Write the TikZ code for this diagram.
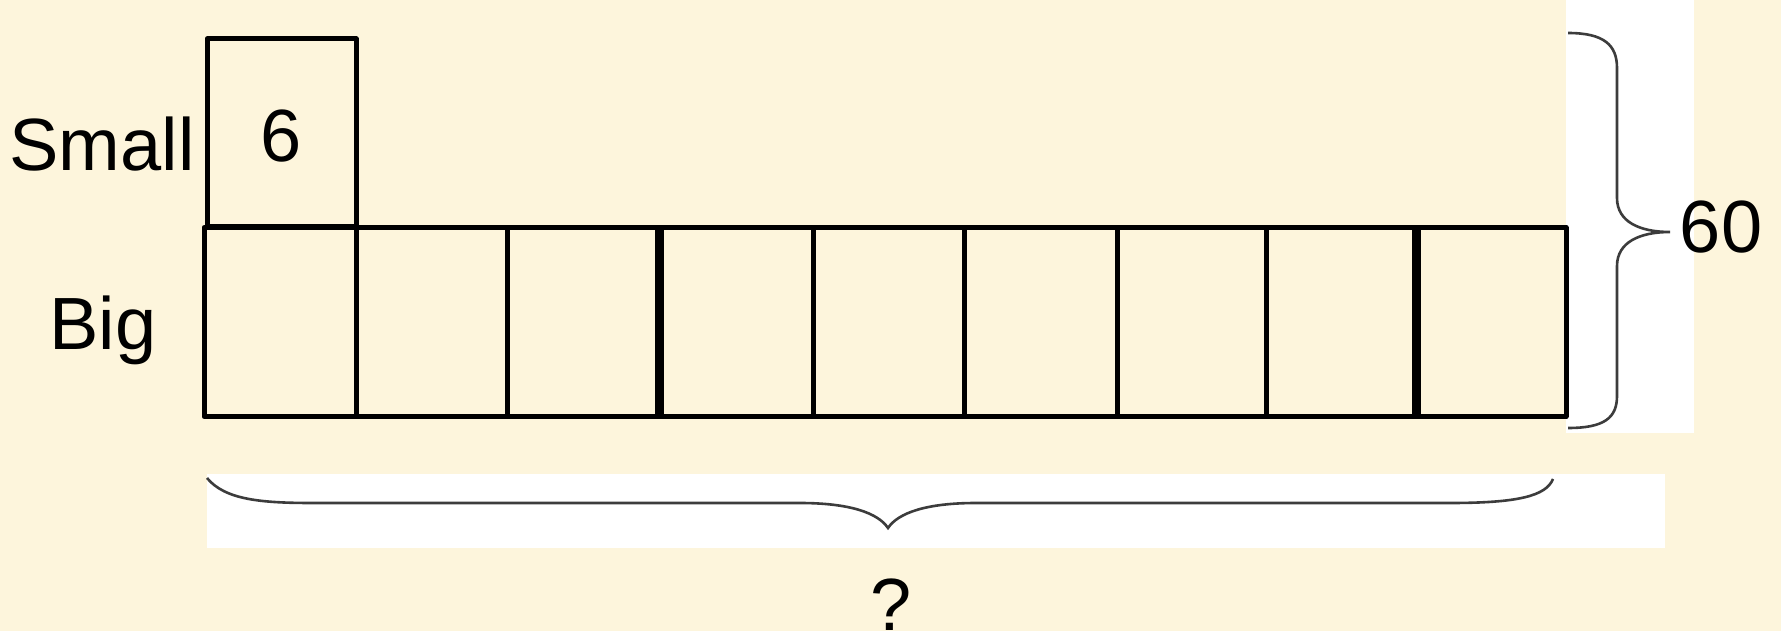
\documentclass[tikz,border=0pt]{standalone}
\usepackage{fontspec}
\setmainfont{Liberation Sans}
\definecolor{bgcream}{RGB}{253,245,220}
\definecolor{bracegray}{RGB}{60,60,60}
\begin{document}
\begin{tikzpicture}[x=1pt,y=-1pt,
  boxst/.style={draw=black,line width=5pt,rectangle,inner sep=0pt,outer sep=0pt,line join=round},
  lbl/.style={font=\fontsize{74}{80}\selectfont,inner sep=0pt,anchor=base},
  bracest/.style={draw=bracegray,line width=2.6pt}]
\fill[bgcream] (0,0) rectangle (1781,631);
\useasboundingbox (0,0) rectangle (1781,631);
% white patches behind braces
\fill[white] (1566,0) rectangle (1694,433);
\fill[white] (207,474) rectangle (1665,548);
% small box
\node[boxst,minimum width=149pt,minimum height=188pt] (s1) at (281.5,133) {};
% big boxes
\foreach \i/\a/\b in {1/204/356,2/356/507,3/507/659,4/659/813,5/813/964,6/964/1117,7/1117/1266,8/1266/1416,9/1416/1566}{
  \node[boxst,minimum width={\b-\a},minimum height=189pt] (b\i) at ({(\a+\b)/2},322) {};
}
% thicker dividers
\draw[line width=9pt] (b4.north west) -- (b4.south west);
\draw[line width=9pt] (b9.north west) -- (b9.south west);
% labels
\node[lbl] (tsmall) at (102,171) {Small};
\node[lbl] (tsix) at (281,162) {6};
\node[lbl] (tbig) at (103,349) {Big};
\node[lbl] (tsixty) at (1721,253) {60};
\node[lbl] (tq) at (891,630) {?};
% braces
\coordinate (rtop) at (1568,33);
\coordinate (rtip) at (1670,232);
\coordinate (rbot) at (1568,428);
\draw[bracest] (rtop) .. controls (1604,33) and (1617,45) .. (1617,68) -- (1617,198)
  .. controls (1617,222) and (1640,232) .. (rtip)
  .. controls (1640,232) and (1617,242) .. (1617,266) -- (1617,396)
  .. controls (1617,418) and (1604,428) .. (rbot);
\coordinate (bl) at (207,478);
\coordinate (btip) at (888,528);
\coordinate (br) at (1553,479);
\draw[bracest] (bl) .. controls (225,500) and (262,503) .. (313,503) -- (800,503)
  .. controls (850,503) and (878,513) .. (btip)
  .. controls (898,513) and (926,503) .. (976,503) -- (1450,503)
  .. controls (1518,503) and (1546,496) .. (br);
\end{tikzpicture}
\end{document}
